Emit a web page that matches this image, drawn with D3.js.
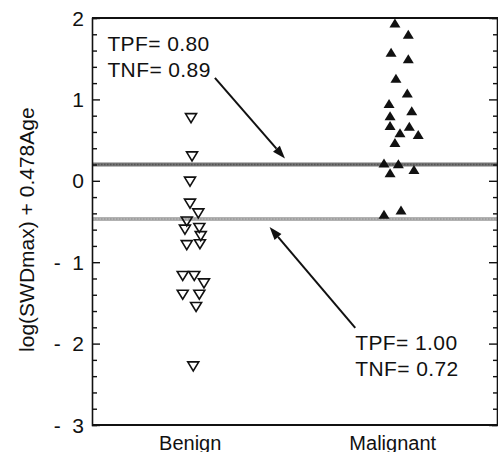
<!DOCTYPE html>
<html>
<head>
<meta charset="utf-8">
<script src="https://cdn.jsdelivr.net/npm/d3@7"></script>
<style>
    body { margin: 0; background: #fff; }
    #space { width: 498px; height: 452px; }
    text { font-family: "Liberation Sans", Arial, Helvetica, sans-serif; fill: #111; }
</style>
</head>
<body>
<div id="space"></div>
<script>

// Groups on the x axis
var categories = ["Benign", "Malignant"];

// Benign cases (open down triangles): x = group position + jitter
var benignX = [1.004, 1.009, 0.999, 0.999, 1.040, 0.983, 0.974, 1.045, 1.052,
               0.983, 1.048, 0.963, 1.020, 1.068, 0.963, 1.045, 1.029, 1.015];
var benignY = [0.77, 0.30, -0.01, -0.28, -0.40, -0.50, -0.60, -0.58, -0.68,
               -0.79, -0.78, -1.17, -1.17, -1.26, -1.40, -1.40, -1.55, -2.28];

// Malignant cases (filled up triangles)
var malignantX = [2.011, 2.077, 1.992, 2.077, 2.016, 2.072, 1.982, 2.094, 1.987, 1.987,
                  2.082, 2.036, 2.126, 2.011, 1.957, 2.028, 1.987, 2.105, 1.957, 2.041];
var malignantY = [1.94, 1.80, 1.58, 1.50, 1.26, 1.08, 0.95, 0.86, 0.80, 0.68,
                  0.67, 0.59, 0.57, 0.47, 0.22, 0.21, 0.10, 0.14, -0.41, -0.36];

// Decision thresholds and their operating points
var thresholds = [0.2, -0.47];
var tpfLabels = ["TPF= 0.80", "TPF= 1.00"];
var tnfLabels = ["TNF= 0.89", "TNF= 0.72"];

// Axis ticks
var yTickValues = [2, 1, 0, -1, -2, -3];
var yTickLabels = ["2", "1", "0", "- \u00a01", "- \u00a02", "- \u00a03"];

var svg, x, y;
var left = 92, right = 498, top_ = 18, bottom = 425;

init();

function init()
{
    svg = d3.select("#space").append("svg")
                             .attr("xmlns", "http://www.w3.org/2000/svg")
                             .attr("width", 498)
                             .attr("height", 452);

    x = d3.scaleLinear().domain([0.515, 2.52]).range([left, right]);
    y = d3.scaleLinear().domain([-3, 2]).range([bottom, top_]);

    drawThresholds();
    drawFrame();
    drawPoints();
    drawAnnotations();
}

/************************************************
				Frame and axes
*************************************************/
function drawFrame() {
    var minor = d3.range(-3, 2.001, 0.2).map(function (v) { return Math.round(v * 10) / 10; });

    //Left axis, ticks pointing inward
    var yl = d3.axisLeft(y).tickValues(minor).tickSize(-5).tickFormat("");
    svg.append("g").attr("transform", "translate(" + left + ",0)").call(yl)
        .call(function (g) {
            g.selectAll(".tick line").attr("x2", function (d) { return Number.isInteger(d) ? 8 : 5; })
                                     .attr("stroke", "#111").attr("stroke-width", 1.4);
            g.select(".domain").attr("stroke", "#111").attr("stroke-width", 1.6);
        });

    //Right axis
    var yr = d3.axisRight(y).tickValues(minor).tickSize(-5).tickFormat("");
    svg.append("g").attr("transform", "translate(" + (right - 1) + ",0)").call(yr)
        .call(function (g) {
            g.selectAll(".tick line").attr("x2", function (d) { return Number.isInteger(d) ? -8 : -4; })
                                     .attr("stroke", "#111").attr("stroke-width", 1.4);
            g.select(".domain").attr("stroke", "#111").attr("stroke-width", 1.6);
        });

    //Top and bottom lines
    svg.append("line").attr("x1", left).attr("x2", right).attr("y1", top_).attr("y2", top_)
        .attr("stroke", "#111").attr("stroke-width", 1.8);
    svg.append("line").attr("x1", left).attr("x2", right).attr("y1", bottom).attr("y2", bottom)
        .attr("stroke", "#111").attr("stroke-width", 1.8);

    //Tick labels
    svg.append("g").selectAll("text")
        .data(yTickValues)
        .enter().append("text")
        .attr("x", 84)
        .attr("y", function (d) { return y(d) + 7.5; })
        .attr("text-anchor", "end")
        .attr("font-size", "21")
        .text(function (d, i) { return yTickLabels[i]; });

    //Category labels (cut at the bottom edge as in the original)
    svg.append("g").selectAll("text")
        .data(categories)
        .enter().append("text")
        .attr("x", function (d, i) { return x(i + 1); })
        .attr("y", 450)
        .attr("text-anchor", "middle")
        .attr("font-size", "20")
        .text(function (d) { return d; });

    //Y title
    svg.append("text")
        .attr("transform", "translate(34," + y(-0.6) + ") rotate(-90)")
        .attr("text-anchor", "middle")
        .attr("font-size", "21")
        .text("log(SWDmax) + 0.478Age");
}

function drawThresholds() {
    var colors = ["#767676", "#b2b2b2"];
    var g = svg.append("g");
    thresholds.forEach(function (t, i) {
        g.append("line")
            .attr("x1", left).attr("x2", right)
            .attr("y1", y(t)).attr("y2", y(t))
            .attr("stroke", colors[i])
            .attr("stroke-width", 4);
        //speckled texture
        g.append("line")
            .attr("x1", left).attr("x2", right)
            .attr("y1", y(t)).attr("y2", y(t))
            .attr("stroke", i == 0 ? "#555" : "#999")
            .attr("stroke-width", 1.5)
            .attr("stroke-dasharray", "1.5 1.5");
    });
}

/************************************************
				Data points
*************************************************/
function triPath(cx, cy, w, h, down) {
    var s = down ? 1 : -1;
    return "M" + (cx - w / 2) + "," + (cy - s * h / 2) +
           "L" + (cx + w / 2) + "," + (cy - s * h / 2) +
           "L" + cx + "," + (cy + s * h / 2) + "Z";
}

function drawPoints() {
    svg.append("g").selectAll("path")
        .data(d3.range(benignX.length))
        .enter().append("path")
        .attr("d", function (i) { return triPath(x(benignX[i]), y(benignY[i]), 11, 9, true); })
        .attr("fill", "none")
        .attr("stroke", "#111")
        .attr("stroke-width", 1.6)
        .attr("stroke-linejoin", "miter");

    svg.append("g").selectAll("path")
        .data(d3.range(malignantX.length))
        .enter().append("path")
        .attr("d", function (i) { return triPath(x(malignantX[i]), y(malignantY[i]), 11, 9, false); })
        .attr("fill", "#111");
}

/************************************************
				Annotations
*************************************************/
function arrow(x1, y1, x2, y2) {
    var ang = Math.atan2(y2 - y1, x2 - x1);
    var len = 13, half = 4.5;
    var bx = x2 - len * Math.cos(ang), by = y2 - len * Math.sin(ang);
    svg.append("line")
        .attr("x1", x1).attr("y1", y1)
        .attr("x2", bx).attr("y2", by)
        .attr("stroke", "#111").attr("stroke-width", 2);
    svg.append("path")
        .attr("d", "M" + x2 + "," + y2 +
                   "L" + (bx + half * Math.sin(ang)) + "," + (by - half * Math.cos(ang)) +
                   "L" + (bx - half * Math.sin(ang)) + "," + (by + half * Math.cos(ang)) + "Z")
        .attr("fill", "#111");
}

function addLabel(px, py, str) {
    svg.append("text")
        .attr("x", px).attr("y", py)
        .attr("font-size", "21")
        .attr("letter-spacing", "0.4")
        .text(str);
}

function drawAnnotations() {
    //Upper threshold
    addLabel(x(0.591), y(1.59), tpfLabels[0]);
    addLabel(x(0.591), y(1.275), tnfLabels[0]);
    arrow(x(1.122), y(1.265), x(1.468), y(thresholds[0]) - 6);

    //Lower threshold
    addLabel(x(1.815), y(-2.076), tpfLabels[1]);
    addLabel(x(1.815), y(-2.404), tnfLabels[1]);
    arrow(x(1.815), y(-1.806), x(1.392), y(thresholds[1]) + 8);
}

</script>
</body>
</html>
